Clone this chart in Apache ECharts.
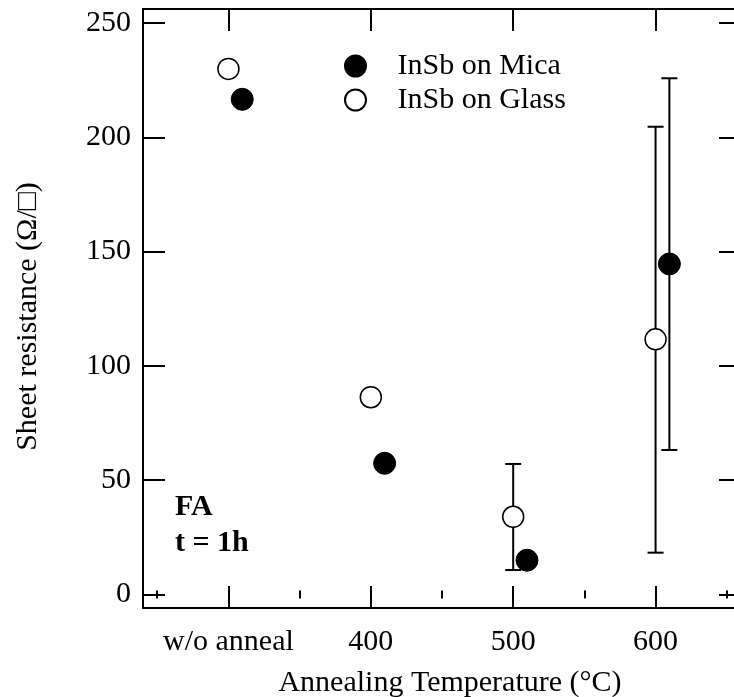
<!DOCTYPE html>
<html>
<head>
<meta charset="utf-8">
<script src="https://cdn.jsdelivr.net/npm/echarts@6/dist/echarts.min.js"></script>
<style>
  html, body { margin: 0; padding: 0; background: #fff; }
  #chart { width: 734px; height: 697px; }
</style>
</head>
<body>
<div id="chart"></div>
<script>
// categories on the x axis (placed at 0..3)
const categories = ['w/o anneal', '400', '500', '600']
const xPositions = [0, 1, 2, 3]
const yTicks = [0, 50, 100, 150, 200, 250]

// sheet resistance (Ω/□)
const micaValues = [216.6, 57.4, 15.0, 144.6]
const glassValues = [229.9, 86.3, 34.0, 111.6]

// error bars (null = no bar)
const micaErrLow = [null, null, null, 63.2]
const micaErrHigh = [null, null, null, 225.8]
const glassErrLow = [null, null, 10.7, 18.3]
const glassErrHigh = [null, null, 57.1, 204.6]

// mica points are drawn slightly right of the tick
const MICA_SHIFT = 0.097

const FONT = '"Liberation Serif", "Times New Roman", "DejaVu Serif", serif'

const chart = echarts.init(document.getElementById('chart'))

function points(values, shift) {
  return values.map((v, i) => [xPositions[i] + shift, v])
}

function errBars(low, high, shift) {
  const out = []
  low.forEach((lo, i) => {
    if (lo !== null) out.push([xPositions[i] + shift, lo, high[i]])
  })
  return out
}

function renderErrBar(params, api) {
  const x = api.value(0)
  const lo = api.coord([x, api.value(1)])
  const hi = api.coord([x, api.value(2)])
  const half = 8
  const style = { stroke: '#000', lineWidth: 2 }
  return {
    type: 'group',
    children: [
      { type: 'line', shape: { x1: lo[0], y1: lo[1], x2: hi[0], y2: hi[1] }, style },
      { type: 'line', shape: { x1: lo[0] - half, y1: lo[1], x2: lo[0] + half, y2: lo[1] }, style },
      { type: 'line', shape: { x1: hi[0] - half, y1: hi[1], x2: hi[0] + half, y2: hi[1] }, style }
    ]
  }
}

const minorX = [-0.5, 0.5, 1.5, 2.5, 3.5]
const axisLine = { show: true, onZero: false, lineStyle: { color: '#000', width: 2 } }
const majorTick = (vals) => ({ show: true, inside: true, length: 22, customValues: vals, lineStyle: { color: '#000', width: 2 } })
const minorTick = { show: true, inside: true, length: 4, customValues: minorX, lineStyle: { color: '#000', width: 2 } }

const xBase = { type: 'value', min: -0.6, max: 3.6, splitLine: { show: false } }
const yBase = { type: 'value', min: -5.9, max: 256.1, splitLine: { show: false } }

const option = {
  animation: false,
  // plot box runs a little past the right edge of the picture
  grid: { left: 143, top: 9, width: 598, height: 599, containLabel: false, outerBoundsMode: 'none' },
  xAxis: [
    Object.assign({}, xBase, {
      position: 'bottom',
      axisLine: axisLine,
      axisTick: majorTick(xPositions),
      axisLabel: {
        customValues: xPositions,
        formatter: (v) => categories[Math.round(v)],
        color: '#000', fontFamily: FONT, fontSize: 30, margin: 19
      },
      name: 'Annealing Temperature (°C)',
      nameLocation: 'middle',
      nameGap: 60,
      nameTextStyle: { color: '#000', fontFamily: FONT, fontSize: 30, padding: [0, 0, 0, 16] }
    }),
    Object.assign({}, xBase, {
      position: 'bottom', axisLine: { show: false }, axisTick: minorTick, axisLabel: { show: false }
    }),
    Object.assign({}, xBase, {
      position: 'top', axisLine: axisLine, axisTick: majorTick(xPositions), axisLabel: { show: false }
    }),
    Object.assign({}, xBase, {
      position: 'top', axisLine: { show: false }, axisTick: minorTick, axisLabel: { show: false }
    })
  ],
  yAxis: [
    Object.assign({}, yBase, {
      position: 'left',
      axisLine: axisLine,
      axisTick: majorTick(yTicks),
      axisLabel: {
        customValues: yTicks,
        color: '#000', fontFamily: FONT, fontSize: 30, margin: 12
      },
      name: 'Sheet resistance (Ω/□)',
      nameLocation: 'middle',
      nameGap: 100,
      nameTextStyle: { color: '#000', fontFamily: FONT, fontSize: 30, padding: [0, 16, 0, 0] }
    }),
    Object.assign({}, yBase, {
      position: 'right', axisLine: axisLine, axisTick: majorTick(yTicks), axisLabel: { show: false }
    })
  ],
  legend: {
    orient: 'vertical',
    left: 339,
    top: 46,
    itemWidth: 74,
    itemHeight: 21,
    itemGap: 4,
    data: ['InSb on Mica', 'InSb on Glass'],
    textStyle: { color: '#000', fontFamily: FONT, fontSize: 30 }
  },
  series: [
    {
      type: 'custom',
      xAxisIndex: 0, yAxisIndex: 0,
      renderItem: renderErrBar,
      data: errBars(glassErrLow, glassErrHigh, 0),
      z: 1
    },
    {
      type: 'custom',
      xAxisIndex: 0, yAxisIndex: 0,
      renderItem: renderErrBar,
      data: errBars(micaErrLow, micaErrHigh, MICA_SHIFT),
      z: 1
    },
    {
      name: 'InSb on Mica',
      type: 'scatter',
      symbol: 'circle',
      symbolSize: 22,
      itemStyle: { color: '#000', borderColor: '#000', borderWidth: 1, opacity: 1 },
      data: points(micaValues, MICA_SHIFT),
      z: 3
    },
    {
      name: 'InSb on Glass',
      type: 'scatter',
      symbol: 'circle',
      symbolSize: 21,
      itemStyle: { color: '#fff', borderColor: '#000', borderWidth: 1.5, opacity: 1 },
      data: points(glassValues, 0),
      z: 3
    }
  ],
  graphic: [
    {
      type: 'text', left: 175, top: 492,
      style: { text: 'FA', fill: '#000', font: 'bold 30px ' + FONT }
    },
    {
      type: 'text', left: 175, top: 528,
      style: { text: 't = 1h', fill: '#000', font: 'bold 30px ' + FONT }
    }
  ]
}

chart.setOption(option)
</script>
</body>
</html>
